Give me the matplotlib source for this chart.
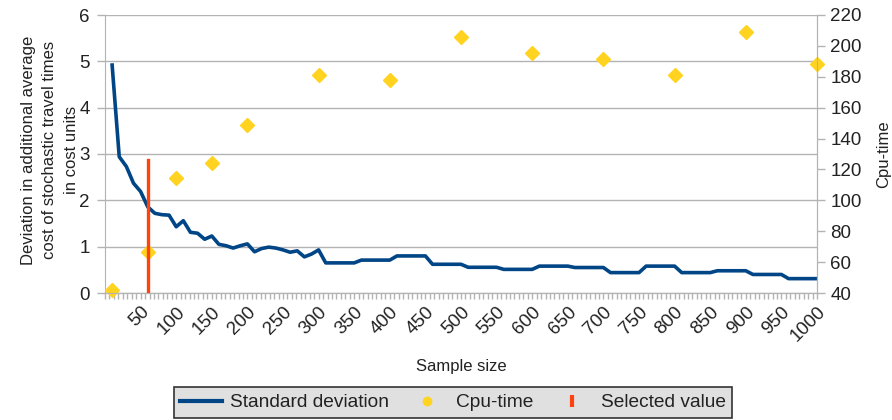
import numpy as np
import matplotlib
matplotlib.use("Agg")
import matplotlib.pyplot as plt
from matplotlib.lines import Line2D
from matplotlib.ticker import MultipleLocator

plt.rcParams['font.family'] = ['Liberation Sans', 'DejaVu Sans']

# Standard deviation per sample size (left axis)
sample_sizes = list(range(10, 1001, 10))
std_dev = [
    4.92, 2.94, 2.73, 2.37, 2.19, 1.86, 1.72, 1.69, 1.68, 1.43,
    1.56, 1.31, 1.29, 1.16, 1.23, 1.05, 1.02, 0.97, 1.02, 1.06,
    0.89, 0.96, 0.99, 0.97, 0.93, 0.88, 0.91, 0.78, 0.84, 0.93,
    0.65, 0.65, 0.65, 0.65, 0.65, 0.71, 0.71, 0.71, 0.71, 0.71,
    0.80, 0.80, 0.80, 0.80, 0.80, 0.62, 0.62, 0.62, 0.62, 0.62,
    0.555, 0.555, 0.555, 0.555, 0.555, 0.51, 0.51, 0.51, 0.51, 0.51,
    0.58, 0.58, 0.58, 0.58, 0.58, 0.55, 0.55, 0.55, 0.55, 0.55,
    0.44, 0.44, 0.44, 0.44, 0.44, 0.58, 0.58, 0.58, 0.58, 0.58,
    0.44, 0.44, 0.44, 0.44, 0.44, 0.48, 0.48, 0.48, 0.48, 0.48,
    0.40, 0.40, 0.40, 0.40, 0.40, 0.31, 0.31, 0.31, 0.31, 0.31,
]

# Cpu-time (right axis)
cpu_sizes = [10, 60, 100, 150, 200, 300, 400, 500, 600, 700, 800, 900, 1000]
cpu_time = [42, 66.5, 114.5, 124, 149, 181, 178, 205.5, 195.2, 191.4, 181.2, 209.3, 188.3]

# Selected value marker (vertical bar, right-axis units)
selected_x = [60, 60]
selected_y = [40, 126]

x_labels = list(range(50, 1001, 50))

BLUE = '#004586'
YELLOW = '#ffd320'
RED = '#ff420e'
GRID = '#b3b3b3'
TEXT = '#222222'
FS = 13.5

fig = plt.figure(figsize=(8.92, 4.2), dpi=100)
ax = fig.add_axes([105 / 892, 1 - 293 / 420, (817 - 105) / 892, (293 - 15) / 420])
ax2 = ax.twinx()

ax.plot(sample_sizes, std_dev, color=BLUE, lw=2.6, solid_joinstyle='round')
ax2.plot(cpu_sizes, cpu_time, linestyle='none', marker='D', ms=6.8,
         color=YELLOW, mec=YELLOW, clip_on=False)
ax2.plot(selected_x, selected_y, color=RED, lw=2.4)

ax.set_xlim(0, 1000)
ax.set_ylim(0, 6)
ax2.set_ylim(40, 220)
ax.set_yticks(range(0, 7))
ax2.set_yticks(range(40, 221, 20))
ax.set_xticks(x_labels)
ax.set_xticklabels([str(v) for v in x_labels], rotation=45, ha='right', va='top',
                   rotation_mode='anchor')
ax.xaxis.set_minor_locator(MultipleLocator(6.25))

ax.grid(axis='y', color=GRID, lw=1)
ax.set_axisbelow(True)

for a in (ax, ax2):
    for s in a.spines.values():
        s.set_color(GRID)
    a.spines['top'].set_visible(False)
    a.tick_params(colors=GRID, labelcolor=TEXT, labelsize=FS, length=6, width=1)
    a.tick_params(which='minor', colors=GRID, length=4.5, width=1)
ax2.spines['left'].set_visible(False)
ax.tick_params(axis='x', length=4.5, pad=3)
ax.tick_params(axis='y', pad=5)
ax2.tick_params(axis='y', pad=3.6)

ax.set_xlabel('Sample size', fontsize=12, color=TEXT)
ax.xaxis.set_label_coords(0.5, -0.237)
# three-line left axis title, lines centred
fig.text(50 / 892, 1 - 150 / 420,
         'Deviation in additional average\ncost of stochastic travel times\nin cost units',
         rotation=90, ha='center', va='center', multialignment='center',
         fontsize=12, color=TEXT, linespacing=1.5)
ax2.set_ylabel('Cpu-time', fontsize=12, color=TEXT)
ax2.yaxis.set_label_coords(1.083, 0.5)

handles = [
    Line2D([], [], color=BLUE, lw=3),
    Line2D([], [], linestyle='none', marker='o', ms=6, color=YELLOW),
    Line2D([], [], linestyle='none', marker='|', ms=9, mew=3, color=RED),
]
leg = fig.legend(handles, ['Standard deviation', 'Cpu-time', 'Selected value'],
                 loc='center', bbox_to_anchor=(453 / 892, 1 - 402.5 / 420), ncol=3,
                 fontsize=13.8, frameon=True, fancybox=False, framealpha=1,
                 facecolor='#e0e0e0', edgecolor='#333333', handlelength=2.2,
                 columnspacing=0.9, borderpad=0.35, handletextpad=0.4,
                 borderaxespad=0)
leg.get_frame().set_linewidth(1.2)
for t in leg.get_texts():
    t.set_color(TEXT)

fig.savefig('out.png', dpi=100, facecolor='white')
